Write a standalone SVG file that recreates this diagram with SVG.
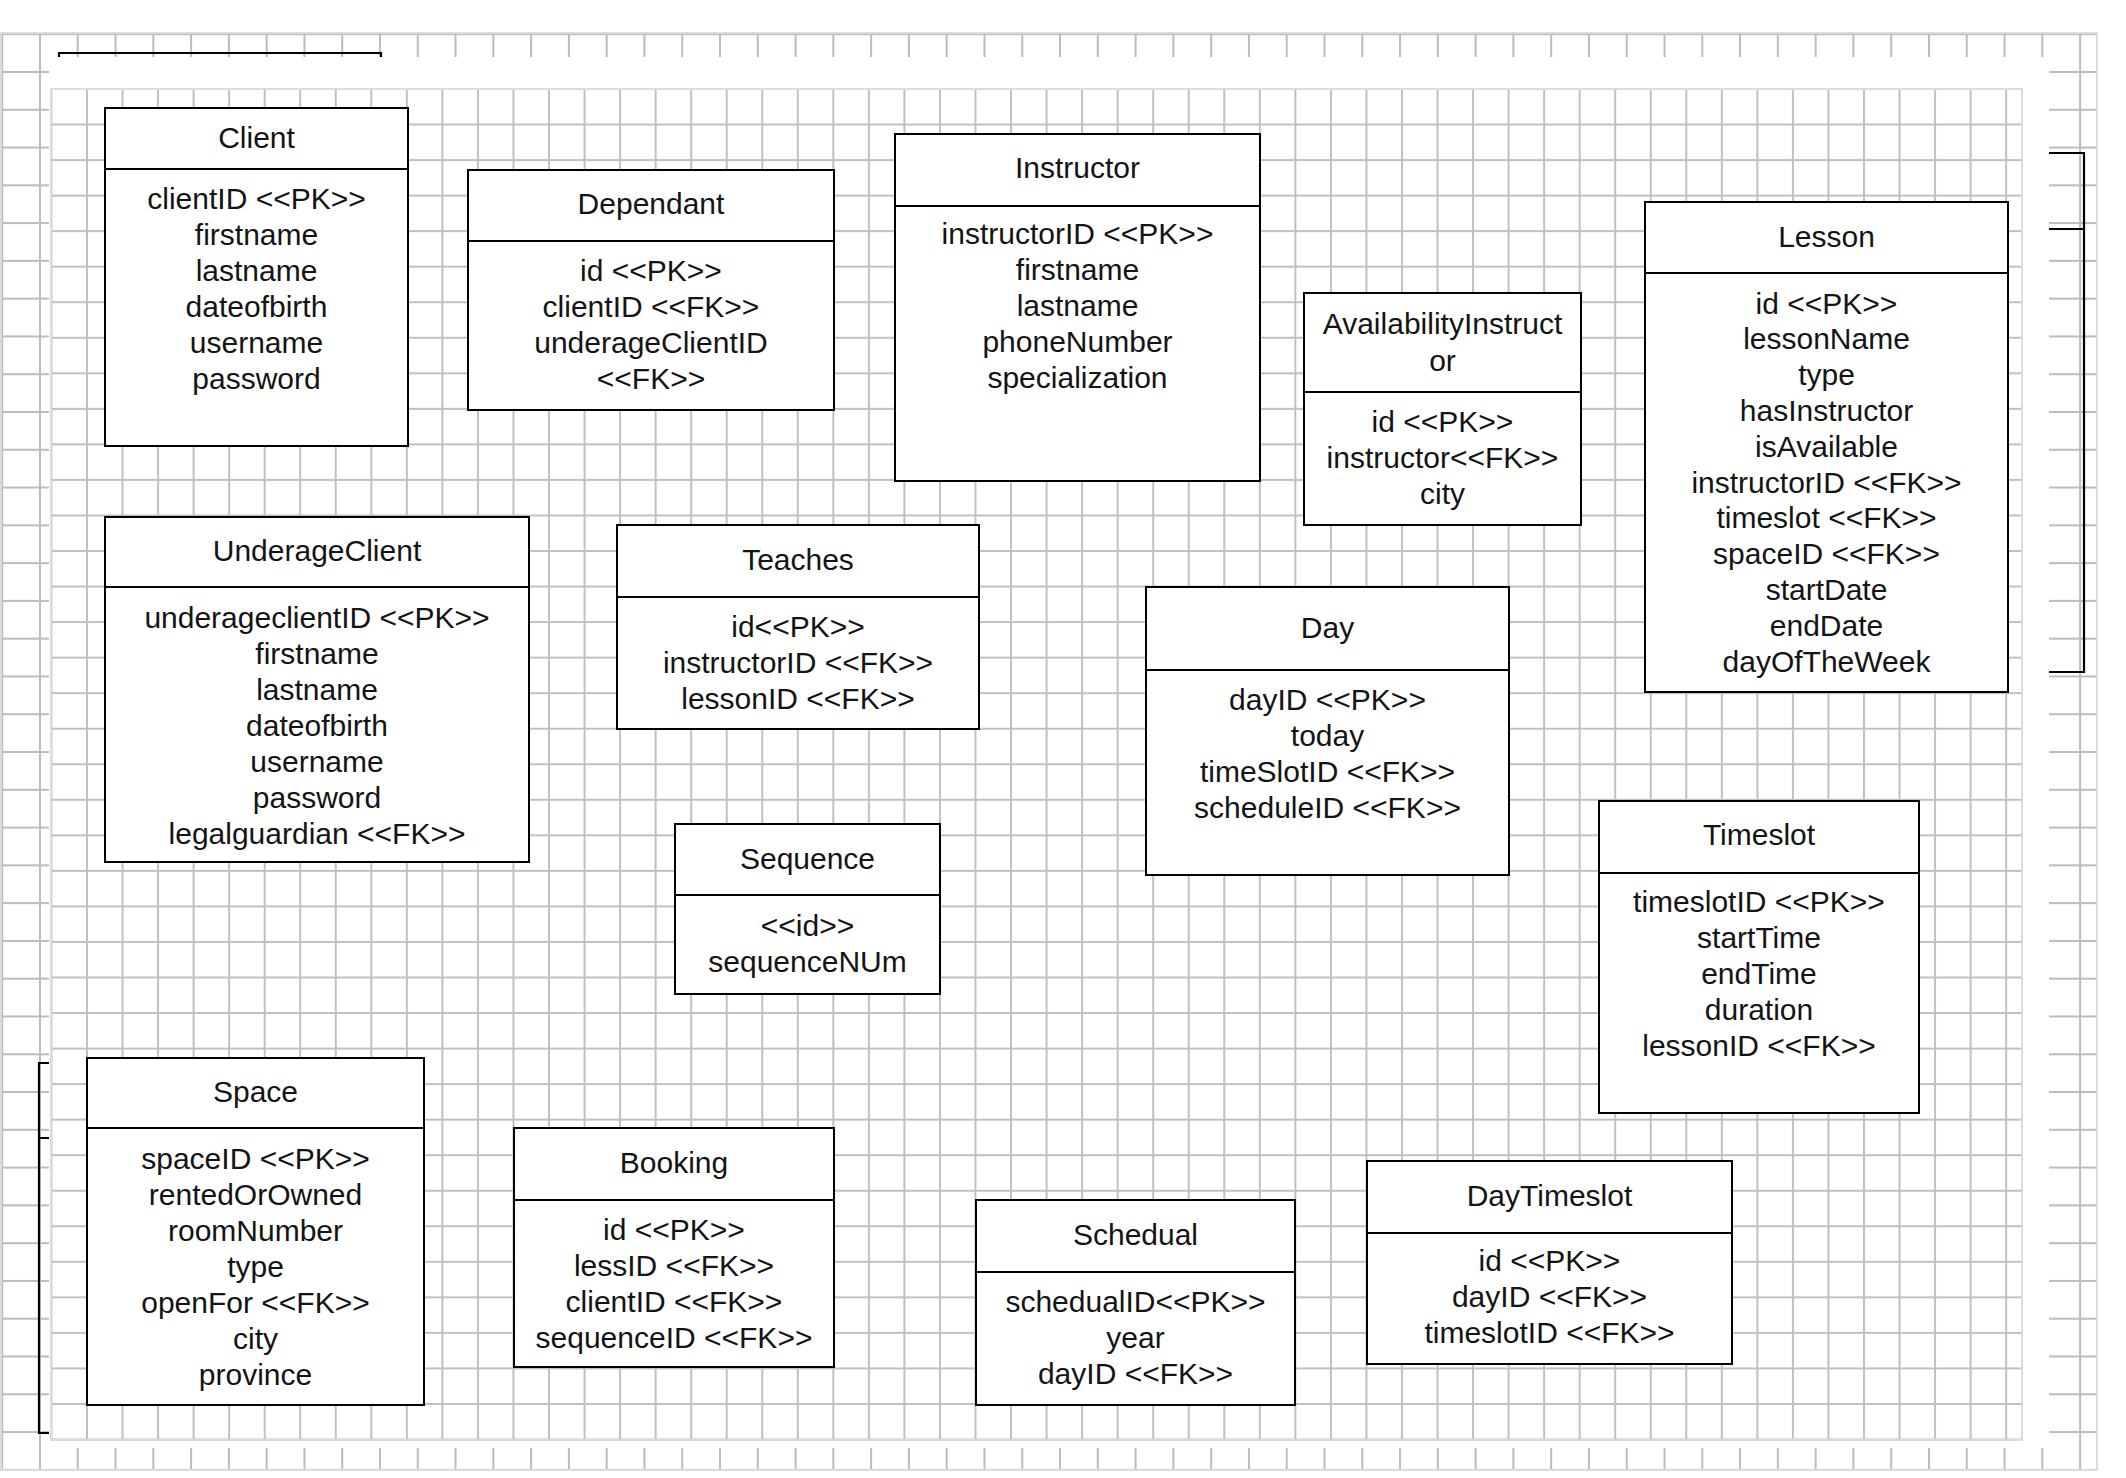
<svg xmlns="http://www.w3.org/2000/svg" width="2126" height="1478" viewBox="0 0 2126 1478">
<style>
.box{fill:#fff;stroke:#000;stroke-width:2}
.sep{stroke:#000;stroke-width:2}
.t{font-family:"Liberation Sans",Arial,sans-serif;font-size:30px;text-anchor:middle;fill:#141414}
.edge{fill:none;stroke:#dcdcdc;stroke-width:2}
.mark{fill:none;stroke:#000;stroke-width:2.2}
</style>
<defs>
<pattern id="outerGrid" patternUnits="userSpaceOnUse" x="1.2" y="33.2" width="37.78" height="37.78">
<path d="M1 0V37.78M0 1H37.78" stroke="#bcbcbc" stroke-width="2" fill="none"/>
</pattern>
<pattern id="innerGrid" patternUnits="userSpaceOnUse" x="50.46" y="88" width="35.54" height="35.54">
<path d="M1 0V35.54M0 1H35.54" stroke="#c0c0c0" stroke-width="2" fill="none"/>
</pattern>
</defs>
<rect width="2126" height="1478" fill="#fff"/>
<g id="background-grid">
<rect x="1" y="33" width="2096" height="1437" fill="url(#outerGrid)"/>
<rect class="edge" x="1" y="33" width="2096" height="1437"/>
<rect x="49" y="57" width="2000" height="1391" fill="#fff"/>
<rect x="51" y="89" width="1971" height="1351" fill="url(#innerGrid)"/>
<rect class="edge" x="51" y="89" width="1971" height="1351"/>
</g>
<g id="edge-marks">
<path class="mark" d="M59 57V53H381V57"/>
<path class="mark" d="M49 1063H39V1433H49M39 1138H49"/>
<path class="mark" d="M2049 153H2084V672H2049M2049 229H2084"/>
</g>
<g id="connectors"/>
<g id="client">
<rect class="box" x="105" y="108" width="303" height="338"/>
<line class="sep" x1="105" y1="169" x2="408" y2="169"/>
<text class="t" x="256.5" y="147.5">Client</text>
<text class="t" y="209"><tspan x="256.5">clientID &lt;&lt;PK&gt;&gt;</tspan><tspan x="256.5" dy="36">firstname</tspan><tspan x="256.5" dy="36">lastname</tspan><tspan x="256.5" dy="36">dateofbirth</tspan><tspan x="256.5" dy="36">username</tspan><tspan x="256.5" dy="36">password</tspan></text>
</g>
<g id="dependant">
<rect class="box" x="468" y="170" width="366" height="240"/>
<line class="sep" x1="468" y1="241" x2="834" y2="241"/>
<text class="t" x="651" y="214">Dependant</text>
<text class="t" y="281"><tspan x="651">id &lt;&lt;PK&gt;&gt;</tspan><tspan x="651" dy="36">clientID &lt;&lt;FK&gt;&gt;</tspan><tspan x="651" dy="36">underageClientID</tspan><tspan x="651" dy="36">&lt;&lt;FK&gt;&gt;</tspan></text>
</g>
<g id="instructor">
<rect class="box" x="895" y="134" width="365" height="347"/>
<line class="sep" x1="895" y1="206" x2="1260" y2="206"/>
<text class="t" x="1077.5" y="177.5">Instructor</text>
<text class="t" y="244"><tspan x="1077.5">instructorID &lt;&lt;PK&gt;&gt;</tspan><tspan x="1077.5" dy="36">firstname</tspan><tspan x="1077.5" dy="36">lastname</tspan><tspan x="1077.5" dy="36">phoneNumber</tspan><tspan x="1077.5" dy="36">specialization</tspan></text>
</g>
<g id="availability-instructor">
<rect class="box" x="1304" y="293" width="277" height="232"/>
<line class="sep" x1="1304" y1="392" x2="1581" y2="392"/>
<text class="t" y="334"><tspan x="1442.5">AvailabilityInstruct</tspan><tspan x="1442.5" dy="37">or</tspan></text>
<text class="t" y="432"><tspan x="1442.5">id &lt;&lt;PK&gt;&gt;</tspan><tspan x="1442.5" dy="36">instructor&lt;&lt;FK&gt;&gt;</tspan><tspan x="1442.5" dy="36">city</tspan></text>
</g>
<g id="lesson">
<rect class="box" x="1645" y="202" width="363" height="490"/>
<line class="sep" x1="1645" y1="273" x2="2008" y2="273"/>
<text class="t" x="1826.5" y="247">Lesson</text>
<text class="t" y="313.5"><tspan x="1826.5">id &lt;&lt;PK&gt;&gt;</tspan><tspan x="1826.5" dy="35.8">lessonName</tspan><tspan x="1826.5" dy="35.8">type</tspan><tspan x="1826.5" dy="35.8">hasInstructor</tspan><tspan x="1826.5" dy="35.8">isAvailable</tspan><tspan x="1826.5" dy="35.8">instructorID &lt;&lt;FK&gt;&gt;</tspan><tspan x="1826.5" dy="35.8">timeslot &lt;&lt;FK&gt;&gt;</tspan><tspan x="1826.5" dy="35.8">spaceID &lt;&lt;FK&gt;&gt;</tspan><tspan x="1826.5" dy="35.8">startDate</tspan><tspan x="1826.5" dy="35.8">endDate</tspan><tspan x="1826.5" dy="35.8">dayOfTheWeek</tspan></text>
</g>
<g id="underage-client">
<rect class="box" x="105" y="517" width="424" height="345"/>
<line class="sep" x1="105" y1="587" x2="529" y2="587"/>
<text class="t" x="317" y="561">UnderageClient</text>
<text class="t" y="628"><tspan x="317">underageclientID &lt;&lt;PK&gt;&gt;</tspan><tspan x="317" dy="36">firstname</tspan><tspan x="317" dy="36">lastname</tspan><tspan x="317" dy="36">dateofbirth</tspan><tspan x="317" dy="36">username</tspan><tspan x="317" dy="36">password</tspan><tspan x="317" dy="36">legalguardian &lt;&lt;FK&gt;&gt;</tspan></text>
</g>
<g id="teaches">
<rect class="box" x="617" y="525" width="362" height="204"/>
<line class="sep" x1="617" y1="597" x2="979" y2="597"/>
<text class="t" x="798" y="570">Teaches</text>
<text class="t" y="637"><tspan x="798">id&lt;&lt;PK&gt;&gt;</tspan><tspan x="798" dy="36">instructorID &lt;&lt;FK&gt;&gt;</tspan><tspan x="798" dy="36">lessonID &lt;&lt;FK&gt;&gt;</tspan></text>
</g>
<g id="day">
<rect class="box" x="1146" y="587" width="363" height="288"/>
<line class="sep" x1="1146" y1="670" x2="1509" y2="670"/>
<text class="t" x="1327.5" y="638">Day</text>
<text class="t" y="710"><tspan x="1327.5">dayID &lt;&lt;PK&gt;&gt;</tspan><tspan x="1327.5" dy="36">today</tspan><tspan x="1327.5" dy="36">timeSlotID &lt;&lt;FK&gt;&gt;</tspan><tspan x="1327.5" dy="36">scheduleID &lt;&lt;FK&gt;&gt;</tspan></text>
</g>
<g id="sequence">
<rect class="box" x="675" y="824" width="265" height="170"/>
<line class="sep" x1="675" y1="895" x2="940" y2="895"/>
<text class="t" x="807.5" y="869">Sequence</text>
<text class="t" y="936"><tspan x="807.5">&lt;&lt;id&gt;&gt;</tspan><tspan x="807.5" dy="36">sequenceNUm</tspan></text>
</g>
<g id="timeslot">
<rect class="box" x="1599" y="801" width="320" height="312"/>
<line class="sep" x1="1599" y1="873" x2="1919" y2="873"/>
<text class="t" x="1759" y="845">Timeslot</text>
<text class="t" y="912"><tspan x="1759">timeslotID &lt;&lt;PK&gt;&gt;</tspan><tspan x="1759" dy="36">startTime</tspan><tspan x="1759" dy="36">endTime</tspan><tspan x="1759" dy="36">duration</tspan><tspan x="1759" dy="36">lessonID &lt;&lt;FK&gt;&gt;</tspan></text>
</g>
<g id="space">
<rect class="box" x="87" y="1058" width="337" height="347"/>
<line class="sep" x1="87" y1="1128" x2="424" y2="1128"/>
<text class="t" x="255.5" y="1102">Space</text>
<text class="t" y="1169"><tspan x="255.5">spaceID &lt;&lt;PK&gt;&gt;</tspan><tspan x="255.5" dy="36">rentedOrOwned</tspan><tspan x="255.5" dy="36">roomNumber</tspan><tspan x="255.5" dy="36">type</tspan><tspan x="255.5" dy="36">openFor &lt;&lt;FK&gt;&gt;</tspan><tspan x="255.5" dy="36">city</tspan><tspan x="255.5" dy="36">province</tspan></text>
</g>
<g id="booking">
<rect class="box" x="514" y="1128" width="320" height="239"/>
<line class="sep" x1="514" y1="1200" x2="834" y2="1200"/>
<text class="t" x="674" y="1173">Booking</text>
<text class="t" y="1240"><tspan x="674">id &lt;&lt;PK&gt;&gt;</tspan><tspan x="674" dy="36">lessID &lt;&lt;FK&gt;&gt;</tspan><tspan x="674" dy="36">clientID &lt;&lt;FK&gt;&gt;</tspan><tspan x="674" dy="36">sequenceID &lt;&lt;FK&gt;&gt;</tspan></text>
</g>
<g id="schedual">
<rect class="box" x="976" y="1200" width="319" height="205"/>
<line class="sep" x1="976" y1="1272" x2="1295" y2="1272"/>
<text class="t" x="1135.5" y="1245">Schedual</text>
<text class="t" y="1312"><tspan x="1135.5">schedualID&lt;&lt;PK&gt;&gt;</tspan><tspan x="1135.5" dy="36">year</tspan><tspan x="1135.5" dy="36">dayID &lt;&lt;FK&gt;&gt;</tspan></text>
</g>
<g id="day-timeslot">
<rect class="box" x="1367" y="1161" width="365" height="203"/>
<line class="sep" x1="1367" y1="1233" x2="1732" y2="1233"/>
<text class="t" x="1549.5" y="1206">DayTimeslot</text>
<text class="t" y="1271"><tspan x="1549.5">id &lt;&lt;PK&gt;&gt;</tspan><tspan x="1549.5" dy="36">dayID &lt;&lt;FK&gt;&gt;</tspan><tspan x="1549.5" dy="36">timeslotID &lt;&lt;FK&gt;&gt;</tspan></text>
</g>
</svg>
